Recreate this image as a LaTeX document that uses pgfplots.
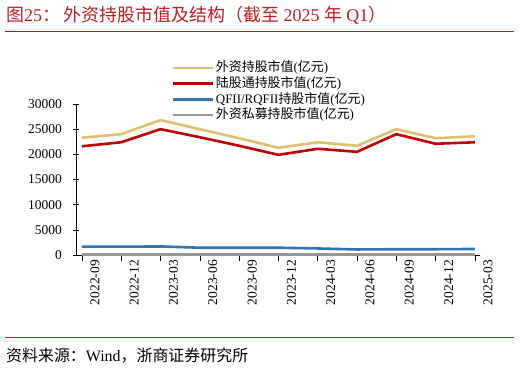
\documentclass[border=0pt]{standalone}
\usepackage{pgfplots}
\pgfplotsset{compat=1.18}
\usepackage{fontspec}
\setmainfont{Liberation Serif}
\newfontfamily\cjk{Noto Sans CJK SC}
\definecolor{titlered}{RGB}{192,30,36}
\definecolor{cgold}{RGB}{224,192,112}
\definecolor{cred}{RGB}{192,0,0}
\definecolor{cblue}{RGB}{46,117,182}
\definecolor{cgray}{RGB}{150,150,150}
\begin{document}
\begin{tikzpicture}[x=1bp,y=1bp]
\path[fill=white] (0,0) rectangle (520,369);
% title
\node[anchor=west,inner sep=0,text=titlered,font=\fontsize{18}{20}\selectfont] at (6,354) {{\cjk 图}25{\cjk ：\ 外资持股市值及结构（截至} 2025 {\cjk 年} Q1{\cjk ）}};
\draw[titlered,line width=0.8bp] (5,338) -- (514,338);
\draw[titlered,line width=0.8bp] (5,32) -- (514,32);
\node[anchor=west,inner sep=0,font=\fontsize{16}{18}\selectfont] at (6,13) {{\cjk 资料来源：}Wind{\cjk ，浙商证券研究所}};
\begin{axis}[
  at={(76bp,114bp)}, anchor=south west,
  scale only axis, width=404bp, height=151bp,
  xmin=-0.15, xmax=10.13, ymin=0, ymax=30000,
  axis x line=bottom, axis y line=left,
  axis line style={-, black, line width=0.6bp},
  xtick={0,...,10},
  xticklabels={2022-09,2022-12,2023-03,2023-06,2023-09,2023-12,2024-03,2024-06,2024-09,2024-12,2025-03},
  ytick={0,5000,...,30000},
  scaled y ticks=false,
  tick align=center,
  major tick length=6bp,
  xtick style={black, line width=0.6bp, yshift=-3bp},
  ytick style={black, line width=0.6bp},
  /pgf/number format/assume math mode=true,
  /pgf/number format/set thousands separator={},
  tick label style={font=\fontsize{13.5}{14}\selectfont},
  xticklabel style={rotate=90, anchor=east, inner sep=0bp, xshift=-2bp, yshift=-13bp},
  yticklabel style={anchor=east, inner sep=0bp, xshift=-11bp},
  clip=false,
  legend style={at={(0.228,1.305)}, anchor=north west, draw=none, fill=none,
    font=\fontsize{13}{14}\selectfont, row sep=0bp,
    nodes={inner ysep=1bp, inner xsep=2bp, text height=10.5bp, text depth=3.2bp}},
  legend cell align=left,
  legend image code/.code={\draw[#1, line width=2.6bp] (0bp,0bp) -- (40bp,0bp);},
  every axis plot/.append style={line width=2.6bp, line join=round},
]
\addplot[cgold, mark=none] coordinates {(0,23300) (1,24000) (2,26800) (3,25000) (4,23200) (5,21300) (6,22400) (7,21700) (8,25000) (9,23200) (10,23600)};
\addlegendentry{{\cjk 外资持股市值}({\cjk 亿元})}
\addplot[cred, mark=none] coordinates {(0,21600) (1,22400) (2,25000) (3,23400) (4,21700) (5,19900) (6,21100) (7,20500) (8,24000) (9,22100) (10,22400)};
\addlegendentry{{\cjk 陆股通持股市值}({\cjk 亿元})}
\addplot[cblue, mark=none] coordinates {(0,1650) (1,1650) (2,1700) (3,1450) (4,1450) (5,1450) (6,1300) (7,1100) (8,1150) (9,1150) (10,1200)};
\addlegendentry{QFII/RQFII{\cjk 持股市值}({\cjk 亿元})}
\addplot[cgray, mark=none] coordinates {(0,80) (1,80) (2,80) (3,80) (4,80) (5,80) (6,80) (7,80) (8,80) (9,80) (10,80)};
\addlegendentry{{\cjk 外资私募持股市值}({\cjk 亿元})}
\end{axis}
\end{tikzpicture}
\end{document}
